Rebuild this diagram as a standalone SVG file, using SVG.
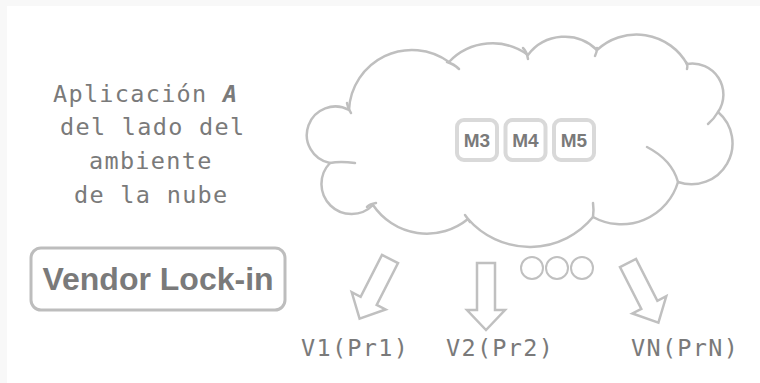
<svg xmlns="http://www.w3.org/2000/svg" width="760" height="383" viewBox="0 0 760 383">
  <defs>
    <style>
      .mono { font-family: "DejaVu Sans Mono", "Liberation Mono", monospace; font-size: 23.5px; letter-spacing: 1.3px; fill: #7a7a7a; }
      .bold { font-family: "Liberation Sans", Arial, sans-serif; font-weight: bold; fill: #7a7a7a; text-anchor: middle; }
      .cloud { fill: #ffffff; stroke: #bfbfbf; stroke-width: 2.5; stroke-linejoin: round; }
      .tail { fill: none; stroke: #bfbfbf; stroke-width: 2.5; stroke-linecap: round; }
      .mbox { fill: #ffffff; stroke: #d9d9d9; stroke-width: 4; }
      .arrow { fill: #ffffff; stroke: #c0c0c0; stroke-width: 2.5; stroke-linejoin: miter; }
      .dot { fill: none; stroke: #c0c0c0; stroke-width: 2; }
    </style>
  </defs>
  <rect x="0" y="0" width="760" height="383" fill="#f8f8f8"/>
  <rect x="7" y="6" width="753" height="377" fill="#ffffff"/>

  <g id="app-text">
    <text class="mono" x="53" y="102">Aplicación <tspan font-weight="bold" font-style="italic">A</tspan></text>
    <text class="mono" x="60" y="135">del lado del</text>
    <text class="mono" x="89" y="169">ambiente</text>
    <text class="mono" x="74" y="203">de la nube</text>
  </g>

  <g id="vendor-lockin">
    <rect x="31" y="248" width="254" height="62" rx="10" ry="10" fill="#ffffff" stroke="#bdbdbd" stroke-width="3"/>
    <text class="bold" x="158" y="290" font-size="32">Vendor Lock-in</text>
  </g>

  <g id="cloud">
    <path class="cloud" d="M330,163 A28.5,28.5 0 1 1 349,110 A63,63 0 0 1 449,62 A60,60 0 0 1 528,55 A46,46 0 0 1 597,50 A58,58 0 0 1 687,64 A31,31 0 0 1 718,112 A41,41 0 0 1 678,182 A59,59 0 0 1 593,217 A82,82 0 0 1 468,219 A65,65 0 0 1 373,205 A30,30 0 0 1 330,163 Z"/>
    <path class="tail" d="M347,103 Q348,109 351,113"/>
    <path class="tail" d="M447,62 Q454,64 459,69"/>
    <path class="tail" d="M523,48 Q527,52 528,59"/>
    <path class="tail" d="M597,48 Q597,52 595,56"/>
    <path class="tail" d="M686,62 Q688,65 687,69"/>
    <path class="tail" d="M718,112 Q714,119 708,124"/>
    <path class="tail" d="M647,147 Q672,160 678,182"/>
    <path class="tail" d="M593,203 Q594,210 593,217"/>
    <path class="tail" d="M470,222 Q468,219 465,215"/>
    <path class="tail" d="M367,207 Q370,204 376,203"/>
    <path class="tail" d="M355,163 Q340,161 330,163"/>
  </g>

  <g id="M3">
    <rect class="mbox" x="457" y="120" width="40" height="40" rx="7" ry="7"/>
    <text class="bold" x="477" y="147" font-size="19">M3</text>
  </g>
  <g id="M4">
    <rect class="mbox" x="505.5" y="120" width="40" height="40" rx="7" ry="7"/>
    <text class="bold" x="525.5" y="147" font-size="19">M4</text>
  </g>
  <g id="M5">
    <rect class="mbox" x="554" y="120" width="40" height="40" rx="7" ry="7"/>
    <text class="bold" x="574" y="147" font-size="19">M5</text>
  </g>

  <g id="connectors">
    <polygon class="arrow" transform="translate(390,259) rotate(27)" points="-9,0 9,0 9,47 19,47 0,67 -19,47 -9,47"/>
    <polygon class="arrow" transform="translate(486,263)" points="-9,0 9,0 9,47 19,47 0,67 -19,47 -9,47"/>
    <polygon class="arrow" transform="translate(628,263) rotate(-27)" points="-9,0 9,0 9,47 19,47 0,67 -19,47 -9,47"/>
  </g>

  <g id="ellipsis">
    <circle class="dot" cx="532" cy="268" r="11"/>
    <circle class="dot" cx="557" cy="268" r="11"/>
    <circle class="dot" cx="582" cy="268" r="11"/>
  </g>

  <g id="V1"><text class="mono" x="301" y="356">V1(Pr1)</text></g>
  <g id="V2"><text class="mono" x="446" y="356">V2(Pr2)</text></g>
  <g id="VN"><text class="mono" x="631" y="356">VN(PrN)</text></g>
</svg>
